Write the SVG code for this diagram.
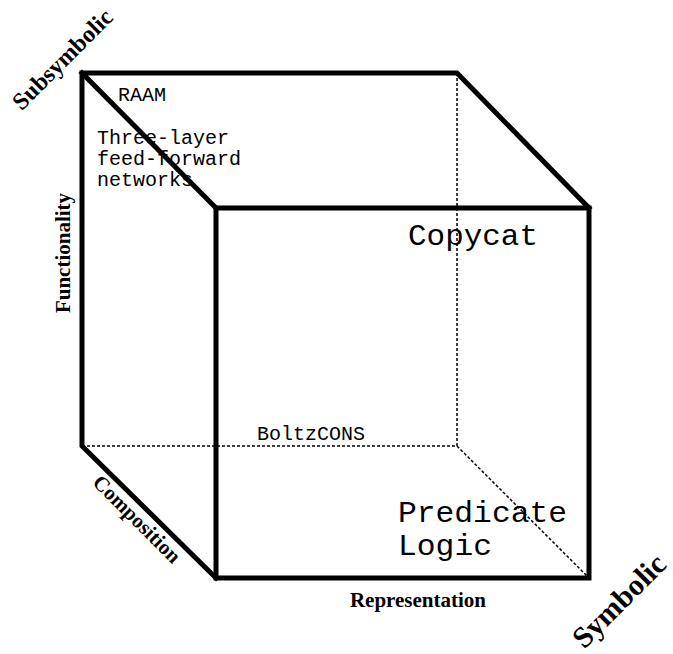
<svg xmlns="http://www.w3.org/2000/svg" width="673" height="654" viewBox="0 0 673 654">
<style>
.mono{font-family:"Liberation Mono","Courier New",monospace;fill:#000}
.sm{font-size:20px}
.lg{font-size:30px}
.lab{font-family:"Liberation Serif","Times New Roman",serif;font-weight:bold;fill:#000}
.solid{fill:none;stroke:#000;stroke-width:5;stroke-linejoin:miter;stroke-linecap:square}
.dash{fill:none;stroke:#000;stroke-width:1.5;stroke-dasharray:3,2}
</style>
<rect width="673" height="654" fill="#fff"/>
<g id="hidden-edges">
<line class="dash" x1="82" y1="446" x2="457" y2="446"/>
<line class="dash" x1="457" y1="73" x2="457" y2="446"/>
<line class="dash" x1="457" y1="446" x2="589" y2="578"/>
</g>
<g id="entries">
<text class="mono sm" x="118" y="101">RAAM</text>
<text class="mono sm" x="97" y="144">Three-layer</text>
<text class="mono sm" x="97" y="165">feed-forward</text>
<text class="mono sm" x="97" y="186">networks</text>
<text class="mono sm" x="257" y="440">BoltzCONS</text>
<text class="mono lg" x="408" y="245" textLength="130" lengthAdjust="spacingAndGlyphs">Copycat</text>
<text class="mono lg" x="398" y="522" textLength="169" lengthAdjust="spacingAndGlyphs">Predicate</text>
<text class="mono lg" x="398" y="555" textLength="94" lengthAdjust="spacingAndGlyphs">Logic</text>
</g>
<g id="cube">
<path class="solid" d="M216,578 L82,446 L82,73 L457,73 L589,208"/>
<line class="solid" x1="82" y1="73" x2="216" y2="208"/>
<rect class="solid" x="216" y="208" width="373" height="370"/>
</g>
<g id="axis-labels">
<text class="lab" font-size="21" text-anchor="middle" transform="translate(70,253) rotate(-90)">Functionality</text>
<text class="lab" font-size="21" x="418" y="607" text-anchor="middle">Representation</text>
<text class="lab" font-size="21" text-anchor="middle" transform="translate(132,524) rotate(45)">Composition</text>
<text class="lab" font-size="24" text-anchor="middle" transform="translate(68,65) rotate(-45)">Subsymbolic</text>
<text class="lab" font-size="30" text-anchor="middle" transform="translate(626,608) rotate(-45)">Symbolic</text>
</g>
</svg>
